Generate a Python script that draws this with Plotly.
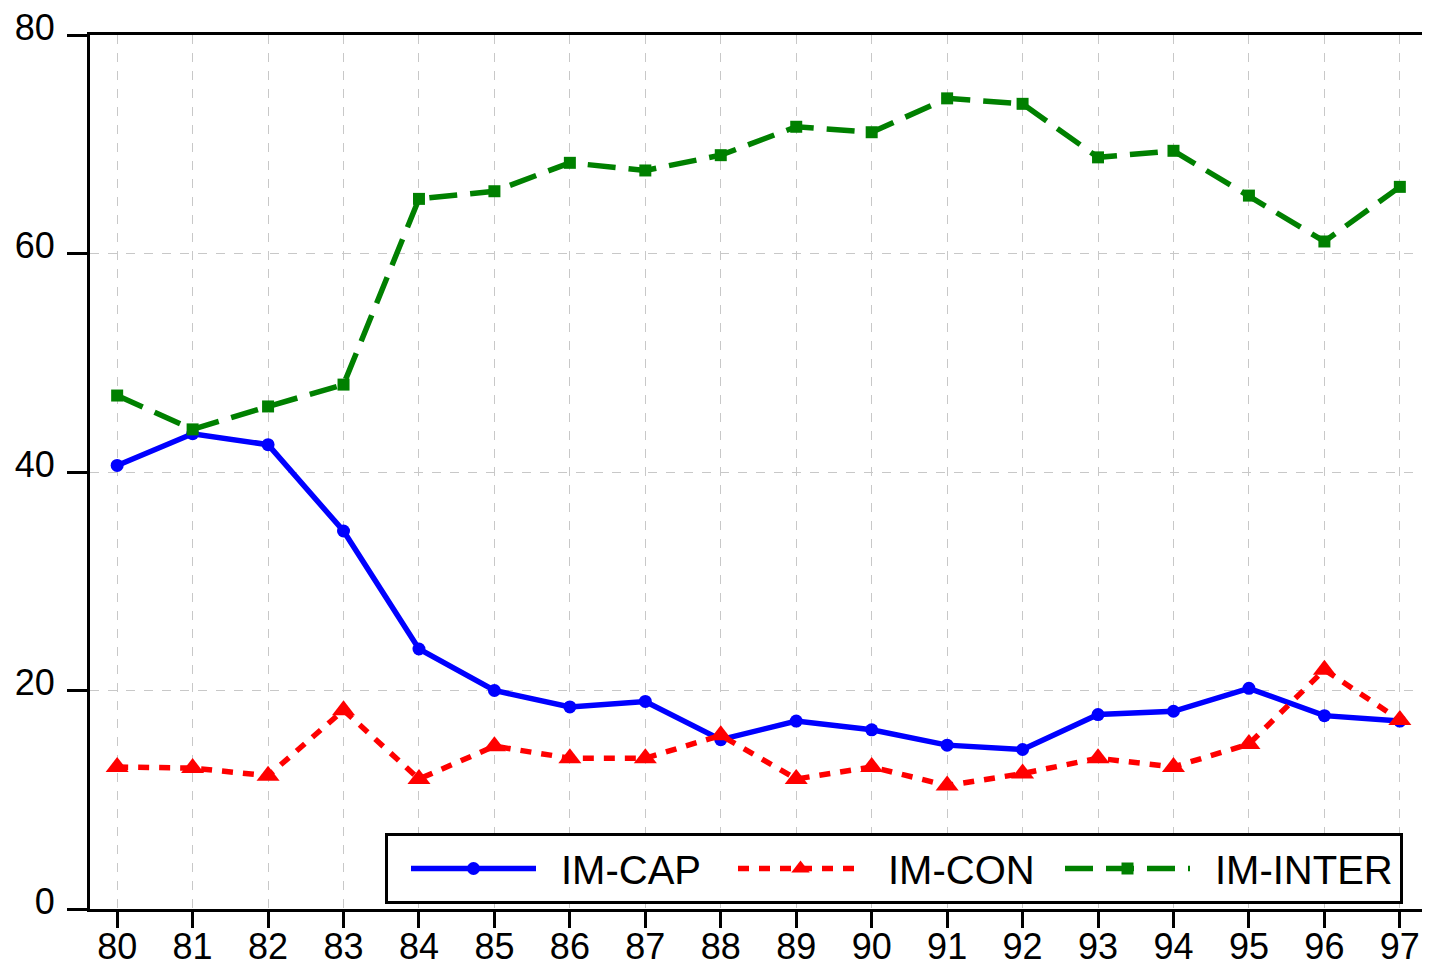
import plotly.graph_objects as go

years = [80, 81, 82, 83, 84, 85, 86, 87, 88, 89, 90, 91, 92, 93, 94, 95, 96, 97]
year_labels = [str(y) for y in years]

im_cap = [40.6, 43.5, 42.5, 34.6, 23.8, 20.0, 18.5, 19.0, 15.5, 17.2, 16.4, 15.0, 14.6, 17.8, 18.1, 20.2, 17.7, 17.2]
im_con = [13.0, 12.9, 12.2, 18.2, 11.9, 14.9, 13.8, 13.8, 15.9, 11.9, 13.0, 11.3, 12.4, 13.8, 13.0, 15.1, 21.9, 17.3]
im_inter = [47.0, 43.9, 46.0, 48.0, 65.0, 65.7, 68.3, 67.6, 69.0, 71.6, 71.1, 74.2, 73.7, 68.8, 69.4, 65.3, 61.1, 66.1]

y_ticks = [0, 20, 40, 60, 80]

FONT = "Liberation Sans, Arial, sans-serif"
GAP = "\u2002"

# The page body has an 8px margin, so the figure is sized to fit the window.
W, H = 1422, 953
L, R, T, B = 82, 3, 27, 52
plot_w = W - L - R
plot_h = H - T - B

fig = go.Figure()
fig.add_trace(go.Scatter(
    x=years, y=im_cap, name=GAP + "IM-CAP", mode="lines+markers",
    line=dict(color="#0000ff", width=5.5),
    marker=dict(symbol="circle", size=13, color="#0000ff"),
))
fig.add_trace(go.Scatter(
    x=years, y=im_con, name=GAP + "IM-CON", mode="lines+markers",
    line=dict(color="#ff0000", width=5.5, dash="11px,10px"),
    marker=dict(symbol="triangle-up", size=20, color="#ff0000"),
))
fig.add_trace(go.Scatter(
    x=years, y=im_inter, name=GAP + "IM-INTER", mode="lines+markers",
    line=dict(color="#008000", width=5.5, dash="28px,13px"),
    marker=dict(symbol="square", size=12, color="#008000"),
    legendwidth=200,
))

fig.update_layout(
    width=W, height=H,
    margin=dict(l=L, r=R, t=T, b=B),
    paper_bgcolor="white", plot_bgcolor="white",
    font=dict(family=FONT, size=36, color="black"),
    showlegend=True,
    legend=dict(
        orientation="h",
        x=(385 - 8 - L) / plot_w, y=(H - B - (833 - 8)) / plot_h,
        xanchor="left", yanchor="top",
        bordercolor="black", borderwidth=3,
        bgcolor="white",
        font=dict(family=FONT, size=40, color="black"),
        itemwidth=125,
        entrywidth=169,
        entrywidthmode="pixels",
        indentation=18,
    ),
    xaxis=dict(
        range=[79.64, 97.36],
        automargin=False,
        tickmode="array", tickvals=years, ticktext=year_labels,
        showline=True, linecolor="black", linewidth=3, mirror=True,
        ticks="outside", ticklen=16, tickwidth=3, tickcolor="black",
        showgrid=True, gridcolor="#c8c8c8", gridwidth=1, griddash="dash",
        zeroline=False,
        ticklabelstandoff=-12,
        ticklabeloverflow="allow",
    ),
    yaxis=dict(
        range=[0, 80],
        automargin=False,
        tickmode="array", tickvals=y_ticks, ticktext=[str(v) for v in y_ticks],
        showline=True, linecolor="black", linewidth=3, mirror=True,
        ticks="outside", ticklen=20, tickwidth=3, tickcolor="black",
        showgrid=True, gridcolor="#c8c8c8", gridwidth=1, griddash="dash",
        zeroline=False,
        ticklabelshift=-8,
        ticklabelstandoff=5,
        ticklabeloverflow="allow",
    ),
)

fig.write_html("out.html")
